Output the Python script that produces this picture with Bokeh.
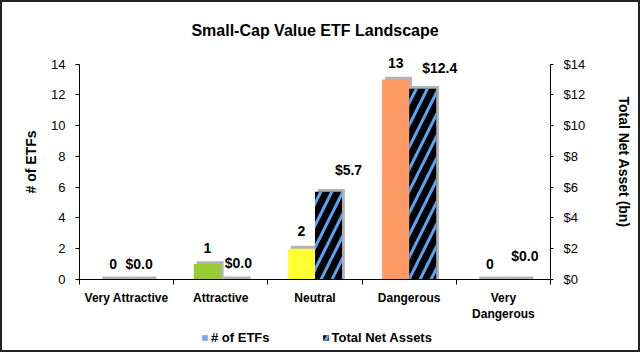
from bokeh.plotting import figure
from bokeh.layouts import column
from bokeh.models import (ColumnDataSource, Range1d, LinearAxis, FixedTicker, Legend, LegendItem,
                          PrintfTickFormatter)
from bokeh.core.properties import value
from bokeh.embed import file_html
from bokeh.resources import INLINE

# ---- data ----
categories = ["Very Attractive", "Attractive", "Neutral", "Dangerous", "Very Dangerous"]
num_etfs = [0, 1, 2, 13, 0]
total_net_assets = [0.0, 0.0, 5.7, 12.4, 0.0]
count_labels = ["0", "1", "2", "13", "0"]
tna_labels = ["$0.0", "$0.0", "$5.7", "$12.4", "$0.0"]
count_colors = ["#bfbfbf", "#99cc33", "#ffff33", "#ff9966", "#bfbfbf"]
y_ticks = [0, 2, 4, 6, 8, 10, 12, 14]
Y_MAX = 14

# ---- layout / style constants ----
FONT = "Liberation Sans"
BAR_W = 0.287
SHADOW_DX = 0.03
SHADOW_DY = 0.19
count_label_dy = [16, 16, 18, 17, 16]
tna_label_dx = [-1, 4, 20, 17, 8]
tna_label_dy = [16, 17, 22, 21, 24]
W = 636
H_MAIN, H_LEG = 322, 26
MB_TOP, MB_BOTTOM = 42, 42
AXIS_PX = 218                     # pixel height of the 0..14 span
frame_h = H_MAIN - MB_TOP - MB_BOTTOM
y_end = Y_MAX * frame_h / AXIS_PX  # headroom above 14 for the value labels

n = len(categories)
centers = [i + 0.5 for i in range(n)]
x_count = [c - BAR_W / 2 for c in centers]
x_tna = [c + BAR_W / 2 for c in centers]

p = figure(width=W, height=H_MAIN, x_range=Range1d(0, n), y_range=Range1d(0, y_end),
           output_backend="svg", toolbar_location=None,
           min_border_left=77, min_border_right=88, min_border_top=MB_TOP,
           min_border_bottom=MB_BOTTOM)
p.extra_y_ranges = {"tna": Range1d(0, y_end)}
p.outline_line_color = None
p.xgrid.visible = False
p.ygrid.visible = False
p.background_fill_color = "white"
p.border_fill_color = "white"

src = ColumnDataSource(dict(
    xc=x_count, xt=x_tna, cnt=num_etfs, tna=total_net_assets, col=count_colors,
    xcs=[x + SHADOW_DX for x in x_count], xts=[x + SHADOW_DX for x in x_tna],
    cnts=[v + SHADOW_DY for v in num_etfs], tnas=[v + SHADOW_DY for v in total_net_assets],
    clab=count_labels, tlab=tna_labels,
    cdy=[-d for d in count_label_dy], tdx=tna_label_dx, tdy=[-d for d in tna_label_dy],
))

# shadows
p.vbar(x="xcs", top="cnts", bottom=0, width=BAR_W, source=src, fill_color="#9a9a9a",
       fill_alpha=0.75, line_color=None)
p.vbar(x="xts", top="tnas", bottom=0, width=BAR_W, source=src, fill_color="#9a9a9a",
       fill_alpha=0.75, line_color=None, y_range_name="tna")

# bars
HATCH = dict(fill_color="black", line_color=None, hatch_pattern="/", hatch_color="#5ba3f5",
             hatch_weight=3, hatch_scale=22)
p.vbar(x="xc", top="cnt", bottom=0, width=BAR_W, source=src, fill_color="col", line_color=None)
p.vbar(x="xt", top="tna", bottom=0, width=BAR_W, source=src, y_range_name="tna", **HATCH)

# labels
p.text(x="xc", y="cnt", text="clab", source=src, y_offset="cdy", text_align="center",
       text_baseline="middle", text_font=value(FONT), text_font_style="bold",
       text_font_size="14px", text_color="black")
p.text(x="xt", y="tna", text="tlab", source=src, x_offset="tdx", y_offset="tdy",
       text_align="center", text_baseline="middle", text_font=value(FONT),
       text_font_style="bold", text_font_size="14px", text_color="black", y_range_name="tna")

# axes
xa = p.xaxis[0]
xa.ticker = FixedTicker(ticks=centers, minor_ticks=list(range(n + 1)))
xa.major_label_overrides = {c: (lab if lab != "Very Dangerous" else "Very\nDangerous")
                            for c, lab in zip(centers, categories)}
xa.major_tick_out = 0
xa.major_tick_in = 0
xa.minor_tick_out = 5
xa.minor_tick_in = 0
xa.minor_tick_line_color = "black"
xa.axis_line_color = "black"
xa.major_label_standoff = 6
xa.major_label_text_font = FONT
xa.major_label_text_font_style = "bold"
xa.major_label_text_font_size = "12px"
xa.major_label_text_color = "black"

ya = p.yaxis[0]
ya.ticker = FixedTicker(ticks=y_ticks)
ya.bounds = (0, Y_MAX)
ya.major_tick_out = 4
ya.major_tick_in = 0
ya.minor_tick_line_color = None
ya.axis_line_color = "black"
ya.major_label_standoff = 10
ya.major_label_text_font = FONT
ya.major_label_text_font_size = "13px"
ya.major_label_text_color = "black"
ya.axis_label = "# of ETFs"
ya.axis_label_text_font = FONT
ya.axis_label_text_font_style = "bold"
ya.axis_label_text_font_size = "14px"
ya.axis_label_text_color = "black"
ya.axis_label_standoff = 9

ra = LinearAxis(y_range_name="tna", ticker=FixedTicker(ticks=y_ticks),
                formatter=PrintfTickFormatter(format="$%d"), bounds=(0, Y_MAX))
ra.major_tick_out = 3
ra.major_tick_in = 0
ra.minor_tick_line_color = None
ra.axis_line_color = "black"
ra.major_label_standoff = 10
ra.major_label_text_font = FONT
ra.major_label_text_font_size = "13px"
ra.major_label_text_color = "black"
ra.axis_label = "Total Net Asset (bn)"
ra.axis_label_text_font = FONT
ra.axis_label_text_font_style = "bold"
ra.axis_label_text_font_size = "14px"
ra.axis_label_text_color = "black"
ra.axis_label_standoff = 28
p.add_layout(ra, "right")

# title
p.title.text = "Small-Cap Value ETF Landscape"
p.title.align = "center"
p.title.text_font = FONT
p.title.text_font_style = "bold"
p.title.text_font_size = "16px"
p.title.text_color = "black"
p.title.standoff = 12

# legend strip (separate small figure so the legend is not clipped)
leg = figure(width=W, height=H_LEG, x_range=Range1d(0, 1), y_range=Range1d(0, 1),
             output_backend="svg", toolbar_location=None, x_axis_type=None, y_axis_type=None,
             min_border=0)
leg.outline_line_color = None
leg.xgrid.visible = False
leg.ygrid.visible = False
proxy_cnt = leg.vbar(x=[0.5], top=[0], bottom=[0], width=0.01, fill_color="#6fa8f5",
                     line_color=None)
proxy_tna = leg.vbar(x=[0.5], top=[0], bottom=[0], width=0.01, **HATCH)
legend = Legend(items=[LegendItem(label="# of ETFs", renderers=[proxy_cnt]),
                       LegendItem(label="Total Net Assets", renderers=[proxy_tna])],
                orientation="horizontal", location=(122, 5))
legend.border_line_color = None
legend.background_fill_alpha = 0
legend.label_text_font = FONT
legend.label_text_font_style = "bold"
legend.label_text_font_size = "13px"
legend.label_text_color = "black"
legend.glyph_width = 7
legend.glyph_height = 7
legend.label_standoff = 3
legend.spacing = 52
legend.padding = 0
legend.margin = 0
leg.add_layout(legend, "center")

layout = column(p, leg)
layout.styles = {"border": "2px solid #222222"}

open("out.html", "w").write(file_html(layout, INLINE))
